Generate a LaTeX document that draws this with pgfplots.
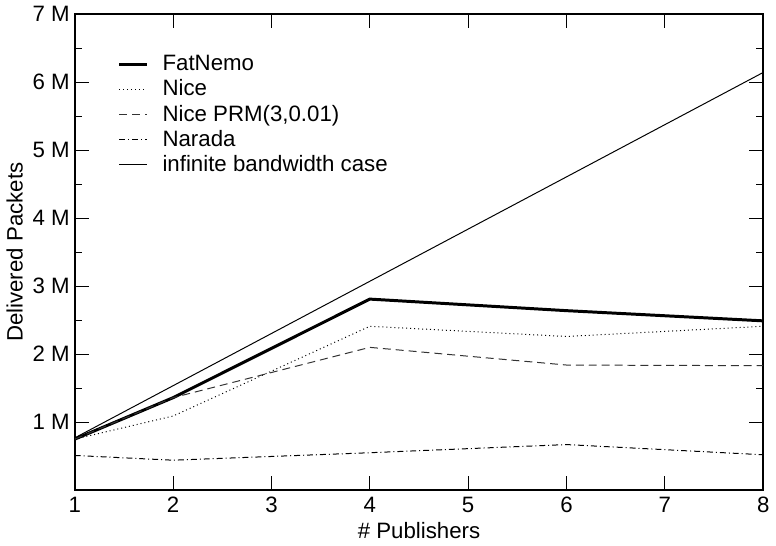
\documentclass[border=0pt]{standalone}
\usepackage{fontspec}
\setmainfont{Liberation Sans}
\usepackage{pgfplots}
\pgfplotsset{compat=1.18}

\begin{document}
\begin{tikzpicture}
\begin{axis}[
  scale only axis,
  width=346.5pt, height=239.5pt,
  xmin=1, xmax=8, ymin=0, ymax=7,
  xtick={1,...,8},
  ytick={1,...,7},
  yticklabels={1 M,2 M,3 M,4 M,5 M,6 M,7 M},
  minor y tick num=1,
  tick align=inside,
  major tick length=7pt,
  minor tick length=3.5pt,
  tick style={black, line width=0.6pt},
  axis line style={line width=0.8pt},
  font=\fontsize{11.2}{13}\selectfont,
  /pgf/number format/assume math mode=true,
  yticklabel style={xshift=1pt},
  xlabel={\# Publishers},
  ylabel={Delivered Packets},
  xlabel style={yshift=2pt},
  ylabel style={yshift=-2pt},
  legend style={draw=none, fill=none, inner sep=0pt, at={(axis cs:1.434,6.45)}, anchor=north west,
    row sep=0pt, font=\fontsize{11.2}{13}\selectfont,
    nodes={inner sep=0.5pt, text height=9pt, text depth=2.6pt}},
  legend cell align=left,
  legend image code/.code={\draw[#1] (0pt,0pt) -- (14pt,0pt); \path (20.5pt,0pt);},
]
\addplot[black, line width=1.5pt] coordinates {(1,0.75) (2,1.36) (4,2.81) (6,2.64) (8,2.49)};
\addlegendentry{FatNemo}
\addplot[black, line width=0.5pt, dash pattern=on 0.5pt off 1.5pt] coordinates {(1,0.75) (2,1.09) (4,2.41) (6,2.26) (8,2.41)};
\addlegendentry{Nice}
\addplot[black!80, line width=0.5pt, dash pattern=on 4pt off 2.5pt] coordinates {(1,0.75) (2,1.36) (4,2.10) (6,1.84) (8,1.83)};
\addlegendentry{Nice PRM(3,0.01)}
\addplot[black, line width=0.5pt, dash pattern=on 3pt off 1.5pt on 0.5pt off 1.5pt] coordinates {(1,0.51) (2,0.44) (4,0.55) (6,0.67) (8,0.52)};
\addlegendentry{Narada}
\addplot[black, line width=0.5pt] coordinates {(1,0.768) (2,1.536) (4,3.072) (6,4.608) (8,6.144)};
\addlegendentry{infinite bandwidth case}
\end{axis}
\end{tikzpicture}
\end{document}
